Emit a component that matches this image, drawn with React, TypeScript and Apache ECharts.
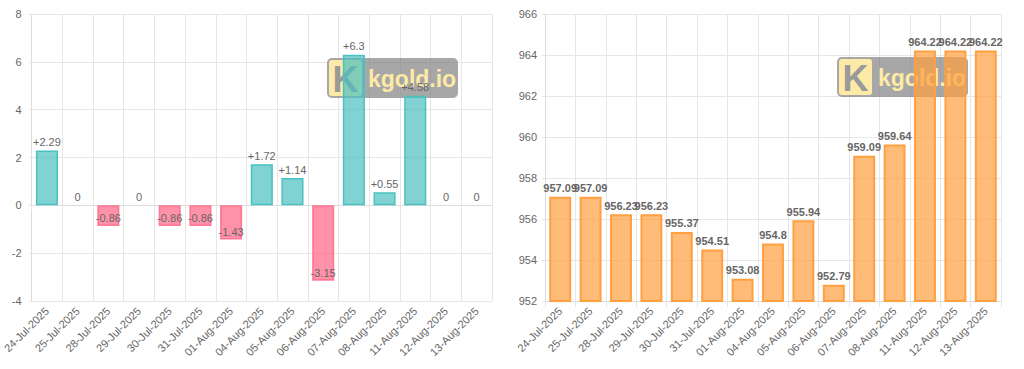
import React, { useEffect, useRef } from "react";
import * as echarts from "echarts";

const categories = [
  "24-Jul-2025", "25-Jul-2025", "28-Jul-2025", "29-Jul-2025", "30-Jul-2025",
  "31-Jul-2025", "01-Aug-2025", "04-Aug-2025", "05-Aug-2025", "06-Aug-2025",
  "07-Aug-2025", "08-Aug-2025", "11-Aug-2025", "12-Aug-2025", "13-Aug-2025",
];
const changeValues = [2.29, 0, -0.86, 0, -0.86, -0.86, -1.43, 1.72, 1.14, -3.15, 6.3, 0.55, 4.58, 0, 0];
const priceValues = [957.09, 957.09, 956.23, 956.23, 955.37, 954.51, 953.08, 954.8, 955.94, 952.79, 959.09, 959.64, 964.22, 964.22, 964.22];

const FONT = "Arial, 'Liberation Sans', sans-serif";
const GRID_COLOR = "#e6e6e6";
const TEXT_COLOR = "#666";

function watermark(x: number, y: number) {
  return {
    type: "group",
    x,
    y,
    children: [
      { type: "rect", z: 1, shape: { x: 0, y: 0, width: 131, height: 40, r: 5 }, style: { fill: "rgba(125,125,125,0.68)" } },
      { type: "rect", z: 1, shape: { x: 2, y: 2, width: 33, height: 36, r: 3 }, style: { fill: "#fdeaa6" } },
      { type: "text", z: 1, style: { x: 18.5, y: 21, text: "K", fill: "#9a9a9a", font: `bold 36px ${FONT}`, align: "center", verticalAlign: "middle" } },
      { type: "text", z: 1, style: { x: 41, y: 21, text: "kgold.io", fill: "#fdeaa6", font: `bold 23px ${FONT}`, align: "left", verticalAlign: "middle" } },
    ],
  };
}

function xAxis(gridIndex: number) {
  return {
    type: "category",
    gridIndex,
    data: categories,
    boundaryGap: true,
    axisLine: { lineStyle: { color: "#dcdcdc" } },
    axisTick: { show: true, length: 6, lineStyle: { color: GRID_COLOR } },
    splitLine: { show: true, lineStyle: { color: GRID_COLOR } },
    axisLabel: { rotate: 45, interval: 0, color: TEXT_COLOR, fontSize: 11, fontFamily: FONT, margin: 8 },
  };
}

export default function App() {
  const ref = useRef<HTMLDivElement>(null);
  useEffect(() => {
    document.body.style.margin = "0";
    if (!ref.current) return;
    const chart = echarts.init(ref.current, undefined, { renderer: "svg" });
    const changeData = changeValues.map((v) => {
      if (v > 0) {
        return {
          value: v,
          itemStyle: { color: "rgba(75,192,192,0.7)", borderColor: "rgb(75,192,192)", borderWidth: 1.5 },
          label: { position: "top", distance: 3 },
        };
      } else if (v < 0) {
        return {
          value: v,
          itemStyle: { color: "rgba(255,99,132,0.7)", borderColor: "rgba(255,99,132,0.8)", borderWidth: 1.5 },
          label: { position: "insideBottom", distance: 2 },
        };
      }
      return { value: v, itemStyle: { color: "rgba(0,0,0,0)", borderWidth: 0 }, label: { position: "top", distance: 3 } };
    });
    chart.setOption({
      animation: false,
      textStyle: { fontFamily: FONT },
      grid: [
        { left: 27, top: 14, width: 465, height: 287 },
        { left: 545, top: 14, width: 456, height: 287 },
      ],
      xAxis: [xAxis(0), xAxis(1)],
      yAxis: [
        {
          type: "value", gridIndex: 0, min: -4, max: 8, interval: 2,
          axisLine: { show: true, lineStyle: { color: "#dcdcdc" } },
          axisTick: { show: true, length: 3, lineStyle: { color: GRID_COLOR } },
          splitLine: { lineStyle: { color: GRID_COLOR } },
          axisLabel: { color: TEXT_COLOR, fontSize: 11, fontFamily: FONT, margin: 10 },
        },
        {
          type: "value", gridIndex: 1, min: 952, max: 966, interval: 2,
          axisLine: { show: true, lineStyle: { color: "#dcdcdc" } },
          axisTick: { show: true, length: 3, lineStyle: { color: GRID_COLOR } },
          splitLine: { lineStyle: { color: GRID_COLOR } },
          axisLabel: { color: TEXT_COLOR, fontSize: 11, fontFamily: FONT, margin: 8 },
        },
      ],
      graphic: [watermark(327, 58), watermark(837, 57)],
      series: [
        {
          type: "bar",
          xAxisIndex: 0,
          yAxisIndex: 0,
          barWidth: "72%",
          data: changeData,
          label: {
            show: true,
            color: TEXT_COLOR,
            fontSize: 11,
            fontFamily: FONT,
            formatter: (p: any) => (p.value > 0 ? "+" + p.value : String(p.value)),
          },
        },
        {
          type: "bar",
          xAxisIndex: 1,
          yAxisIndex: 1,
          barWidth: "72%",
          data: priceValues,
          itemStyle: { color: "rgba(255,159,64,0.7)", borderColor: "rgb(255,159,64)", borderWidth: 2 },
          label: {
            show: true,
            position: "top",
            distance: 3,
            color: TEXT_COLOR,
            fontSize: 11,
            fontWeight: "bold",
            fontFamily: FONT,
          },
        },
      ],
    });
    return () => chart.dispose();
  }, []);
  return <div ref={ref} style={{ position: "absolute", left: 0, top: 0, width: 1024, height: 369 }} />;
}
